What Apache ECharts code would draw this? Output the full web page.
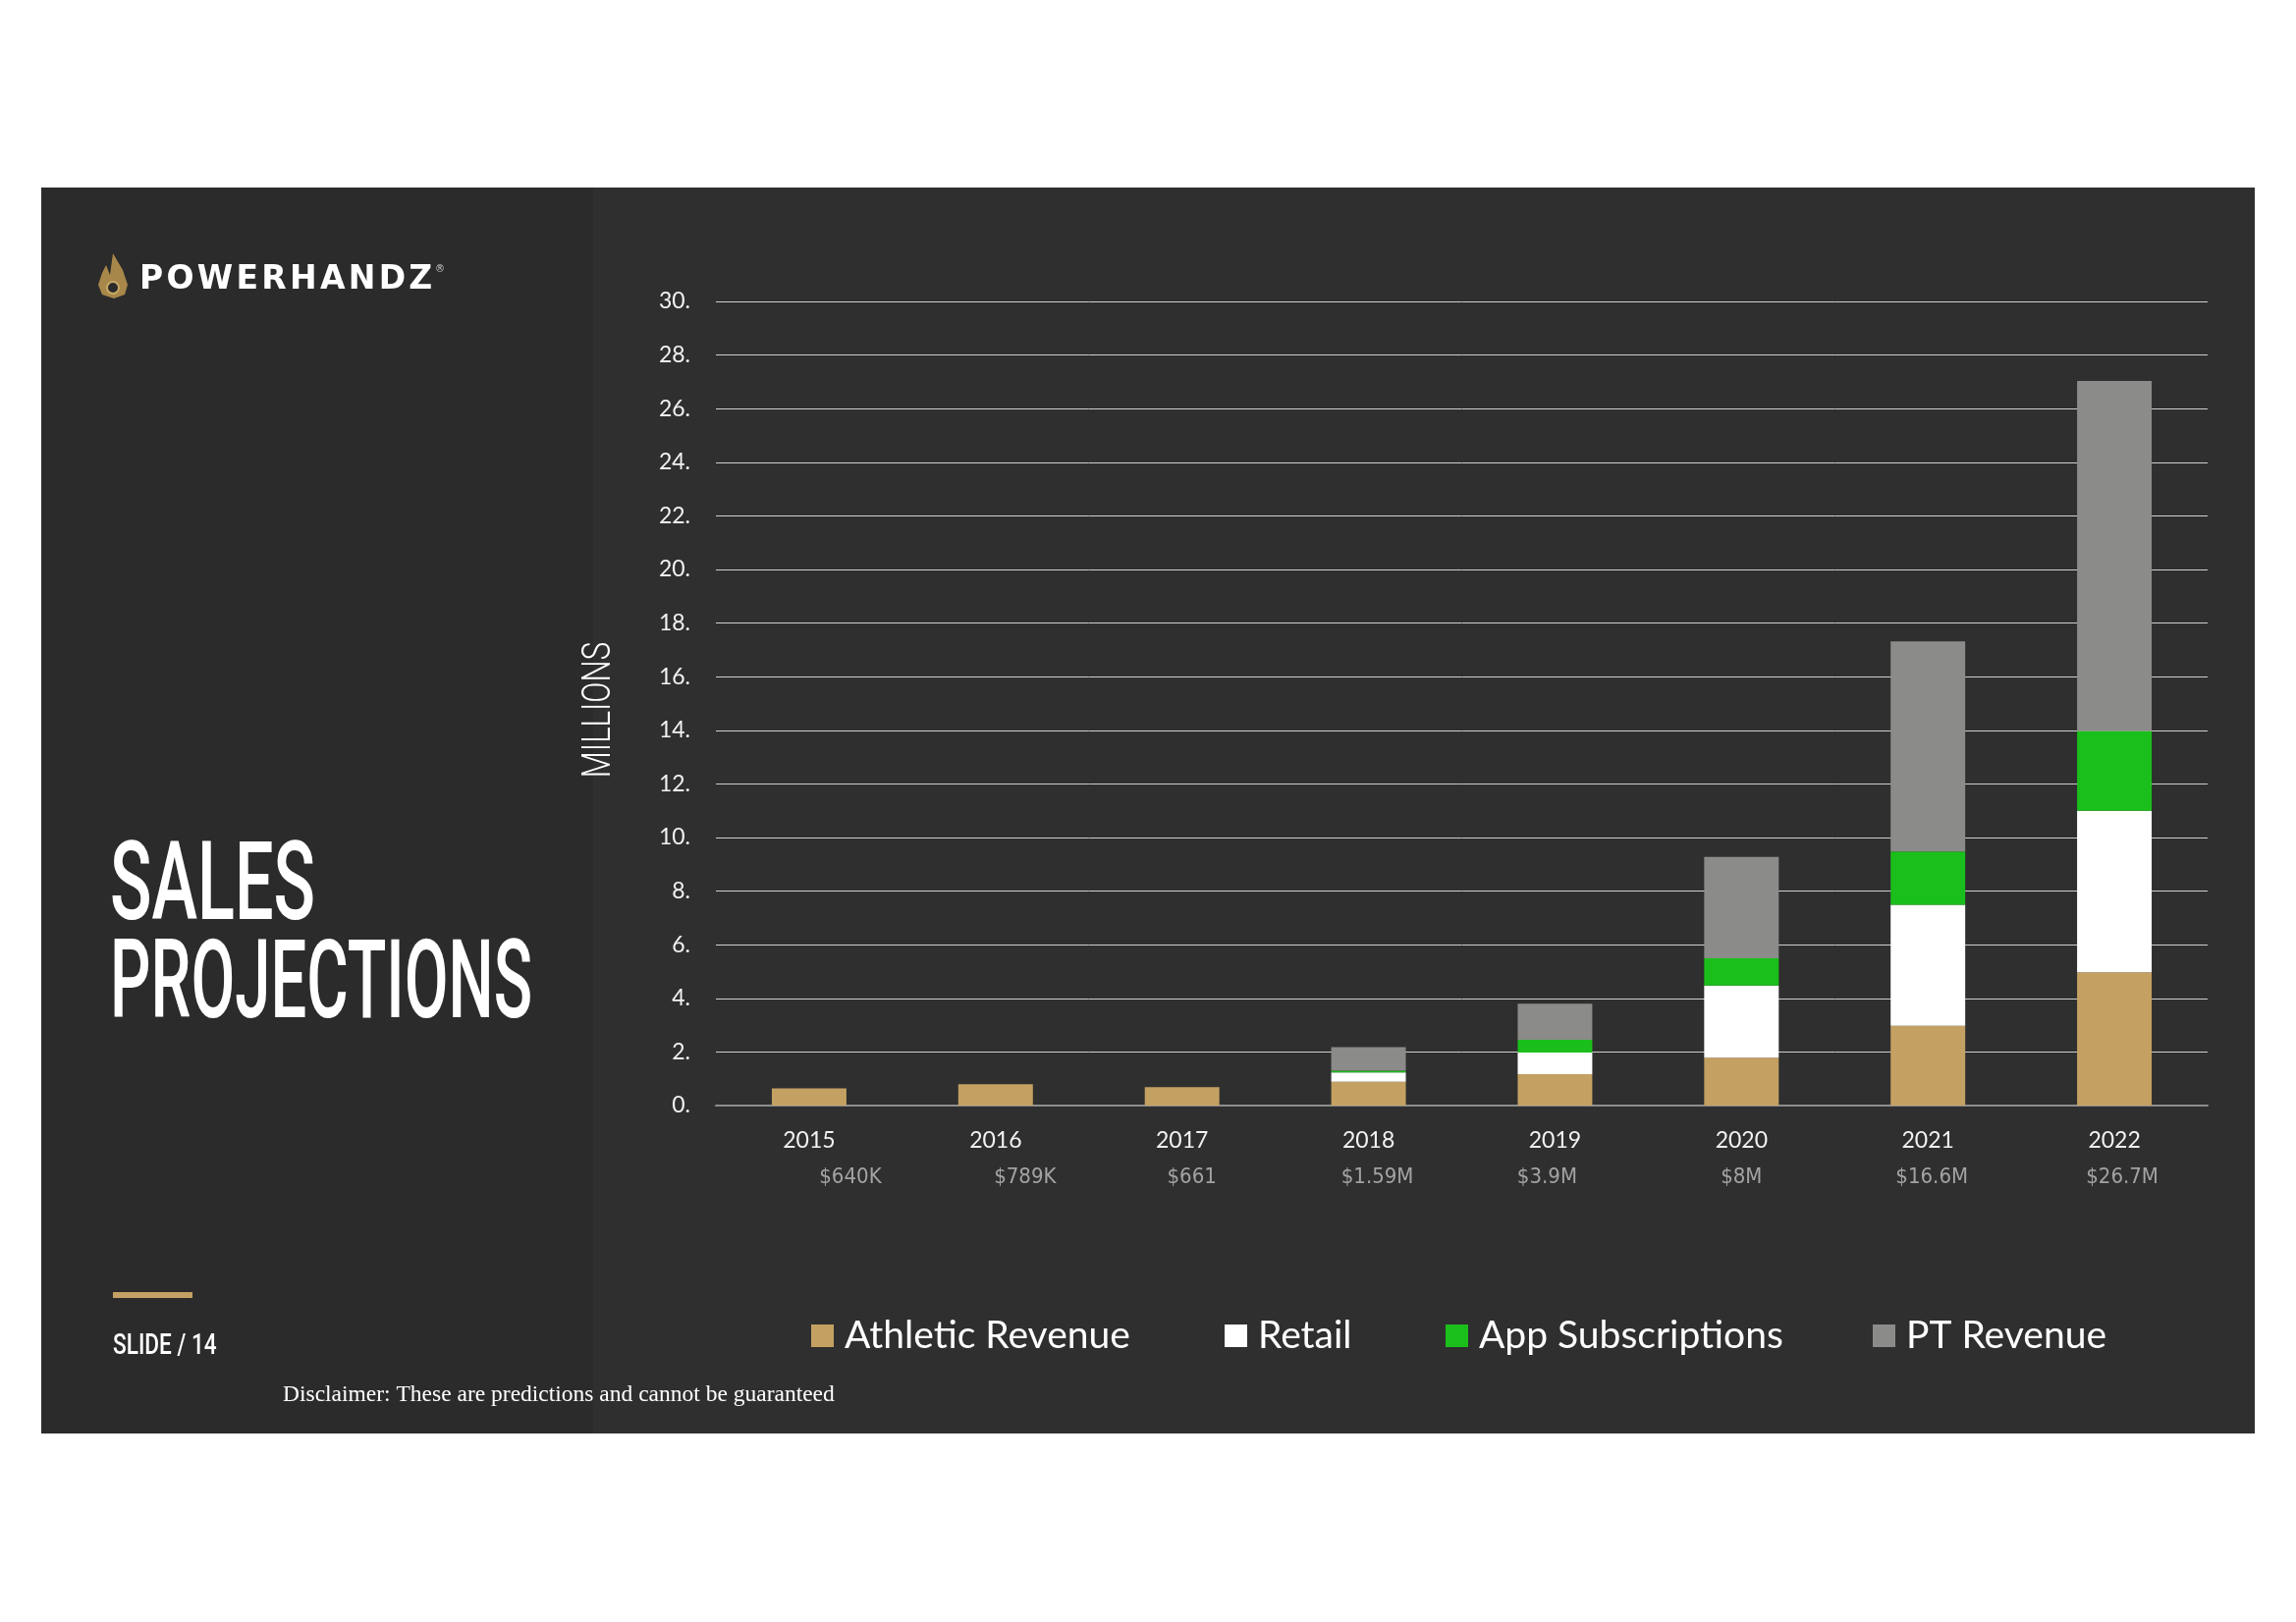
<!DOCTYPE html>
<html>
<head>
<meta charset="utf-8">
<script src="https://cdn.jsdelivr.net/npm/echarts@6/dist/echarts.min.js"></script>
<style>
  html, body { margin: 0; padding: 0; background: #ffffff; }
  #wrap { position: relative; width: 2338px; height: 1652px; background: #ffffff; }
  #panelL { position: absolute; left: 42px; top: 191px; width: 562px; height: 1269px; background: #2b2b2b; }
  #panelR { position: absolute; left: 604px; top: 191px; width: 1692px; height: 1269px; background: #2f2f2f; }
  #chart { position: absolute; left: 0; top: 0; width: 2338px; height: 1652px; }
</style>
</head>
<body>
<div id="wrap">
  <div id="panelL"></div>
  <div id="panelR"></div>
  <div id="chart"></div>
</div>
<script>
// ---- data ----
const years = ['2015', '2016', '2017', '2018', '2019', '2020', '2021', '2022'];
const totalLabels = ['$640K', '$789K', '$661', '$1.59M', '$3.9M', '$8M', '$16.6M', '$26.7M'];
const seriesNames = ['Athletic Revenue', 'Retail', 'App Subscriptions', 'PT Revenue'];
const athletic = [0.64, 0.80, 0.69, 0.89, 1.17, 1.79, 2.98, 4.97];
const retail   = [0, 0, 0, 0.35, 0.81, 2.69, 4.51, 6.03];
const app      = [0, 0, 0, 0.06, 0.47, 1.01, 1.99, 2.97];
const pt       = [0, 0, 0, 0.88, 1.35, 3.79, 7.84, 13.06];
const yMin = 0, yMax = 30, yStep = 2;

// ---- styles ----
const colors = ['#c4a162', '#ffffff', '#1bbf1b', '#8b8b89'];
const legendLeft = [826, 1247, 1472, 1907];
const totalNudge = [42, 30, 10, 9, -8, 0, 4, 8];

const chart = echarts.init(document.getElementById('chart'), null, { renderer: 'canvas', width: 2338, height: 1652 });

const rich = {};
totalNudge.forEach((d, i) => {
  rich['t' + i] = {
    color: '#a3a3a3', fontFamily: '"Liberation Sans Narrow", "DejaVu Sans Condensed", Roboto, sans-serif',
    fontSize: 22, padding: d >= 0 ? [0, 0, 0, 2 * d] : [0, -2 * d, 0, 0]
  };
});

const valuesBySeries = [athletic, retail, app, pt];

const option = {
  backgroundColor: 'transparent',
  animation: false,
  grid: { left: 729, right: 90, top: 307, bottom: 1652 - 1126 },
  xAxis: [
    {
      type: 'category', data: years, position: 'bottom',
      axisLine: { show: true, lineStyle: { color: '#8e8e8e', width: 2 } },
      axisTick: { show: false },
      axisLabel: { color: '#f2f2f2', fontFamily: 'Lato, "Open Sans", sans-serif', fontSize: 23, margin: 24 }
    },
    {
      type: 'category', data: years, position: 'bottom',
      axisLine: { show: false }, axisTick: { show: false },
      axisLabel: {
        margin: 62,
        formatter: function (v, i) { return '{t' + i + '|' + totalLabels[i] + '}'; },
        rich: rich
      }
    }
  ],
  yAxis: {
    type: 'value', min: yMin, max: yMax, interval: yStep,
    axisLine: { show: false }, axisTick: { show: false },
    splitLine: { show: true, lineStyle: { color: '#cfcfcf', width: 1 } },
    axisLabel: {
      color: '#f2f2f2', fontFamily: 'Lato, "Open Sans", sans-serif', fontSize: 23, margin: 26,
      padding: [5, 0, 0, 0],
      formatter: function (v) { return v + '.'; }
    }
  },
  legend: seriesNames.map(function (n, i) {
    return {
      data: [n], left: legendLeft[i], top: 1341, padding: 0,
      icon: 'rect', itemWidth: 23, itemHeight: 23, itemGap: 0,
      textStyle: { color: '#ffffff', fontFamily: 'Lato, "Open Sans", sans-serif', fontSize: 39, padding: [0, 0, 0, 6] }
    };
  }),
  series: seriesNames.map(function (n, i) {
    return {
      name: n, type: 'bar', stack: 'total', xAxisIndex: 0,
      barWidth: '40%',
      itemStyle: { color: colors[i] },
      data: valuesBySeries[i]
    };
  }),
  graphic: {
    elements: [
      {
        type: 'text', x: 142, y: 285,
        style: { text: 'P\u200aO\u200aW\u200aE\u200aR\u200aH\u200aA\u200aN\u200aD\u200aZ', fill: '#ffffff', font: 'bold 33px "DejaVu Sans", sans-serif', verticalAlign: 'middle', align: 'left' }
      },
      {
        type: 'text', x: 443, y: 274,
        style: { text: '\u00ae', fill: '#cccccc', font: '10px "DejaVu Sans", sans-serif', verticalAlign: 'middle', align: 'left' }
      },
      {
        type: 'polygon',
        shape: { points: [[115, 258], [125, 275], [130, 290], [127, 300], [116, 304], [104, 300], [100, 290], [104, 278], [108, 270], [112, 280]] },
        style: { fill: '#a8874a' }
      },
      {
        type: 'circle', shape: { cx: 115, cy: 293, r: 6 },
        style: { fill: '#2b2b2b', stroke: '#c9a965', lineWidth: 2 }
      },
      {
        type: 'text', x: 112, y: 908, scaleX: 0.632,
        style: { text: 'SALES', fill: '#ffffff', font: '500 111px Roboto, sans-serif', verticalAlign: 'middle', align: 'left' }
      },
      {
        type: 'text', x: 112, y: 1008, scaleX: 0.586,
        style: { text: 'PROJECTIONS', fill: '#ffffff', font: '500 111px Roboto, sans-serif', verticalAlign: 'middle', align: 'left' }
      },
      {
        type: 'rect', shape: { x: 115, y: 1316, width: 81, height: 6 },
        style: { fill: '#c4a162' }
      },
      {
        type: 'text', x: 115, y: 1372, scaleX: 0.78,
        style: { text: 'SLIDE / 14', fill: '#ffffff', font: '500 29px Roboto, sans-serif', verticalAlign: 'middle', align: 'left' }
      },
      {
        type: 'text', x: 288, y: 1421,
        style: { text: 'Disclaimer: These are predictions and cannot be guaranteed', fill: '#ffffff', font: '23.5px "Liberation Serif", serif', verticalAlign: 'middle', align: 'left' }
      },
      {
        type: 'text', x: 611, y: 723, rotation: Math.PI / 2, scaleX: 0.78,
        style: { text: 'MILLIONS', fill: '#ffffff', font: '300 40px Roboto, sans-serif', verticalAlign: 'middle', align: 'center' }
      }
    ]
  }
};
chart.setOption(option);
</script>
</body>
</html>
